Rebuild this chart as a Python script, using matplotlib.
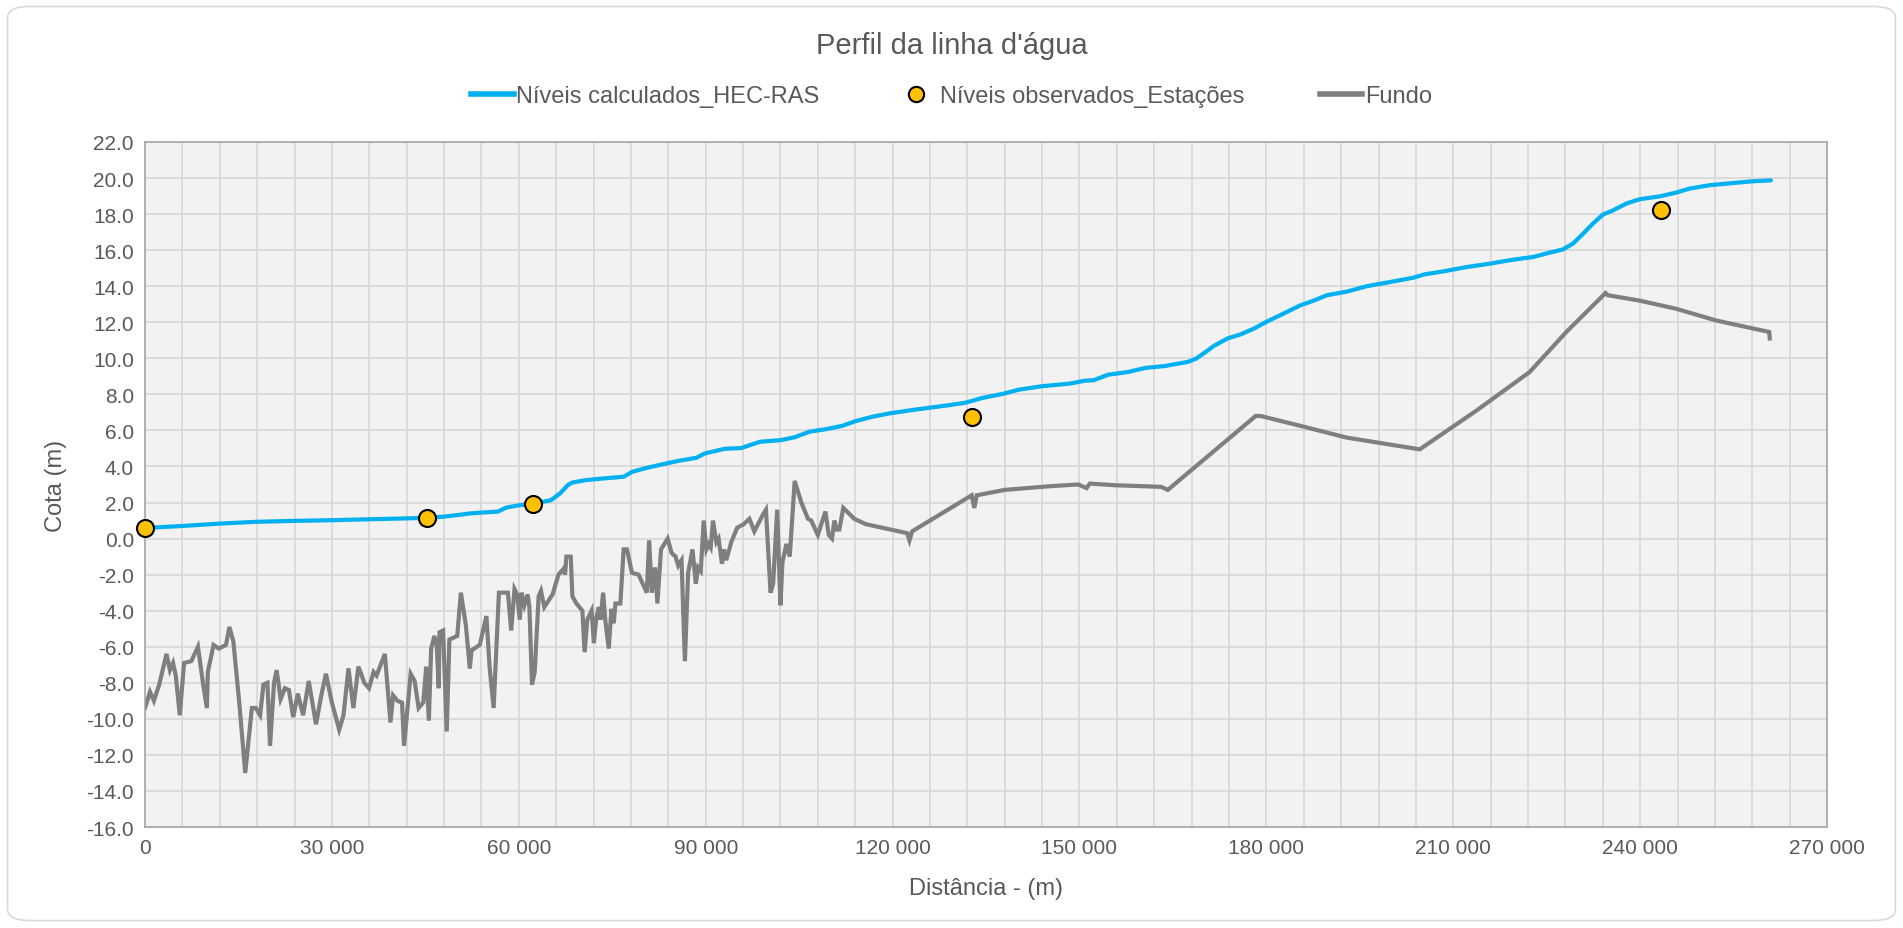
import matplotlib
matplotlib.use("Agg")
import matplotlib.pyplot as plt
from matplotlib.ticker import MultipleLocator, FuncFormatter
from matplotlib.patches import FancyBboxPatch
from matplotlib.lines import Line2D

# ── Data ──────────────────────────────────────────────────────────────────────
nivel_x = [0, 6100, 11950, 17800, 23630, 30000, 35840, 42000, 45300, 48060,
           50550, 52000, 54000, 56660, 57980, 60100, 62230, 65150, 66600, 67900,
           68600, 70730, 73380, 76830, 78160, 80500, 82410, 85600, 88500, 89840,
           93030, 95680, 98710, 102000, 104280, 106670, 109330, 111980, 114110, 116760,
           119420, 123130, 125950, 129070, 131730, 134390, 137850, 140250, 143970, 148500,
           150890, 152220, 154610, 157800, 160460, 163650, 167380, 168710, 170040, 171630,
           173760, 175890, 178020, 180150, 182270, 185470, 187600, 189720, 192920, 196110,
           199830, 203560, 205440, 208380, 212120, 215850, 219590, 222800, 225470, 227600,
           229200, 230810, 232410, 234010, 235610, 237750, 239880, 243090, 245760, 247890,
           251100, 254840, 258040, 260980]
nivel_y = [0.59, 0.70, 0.83, 0.93, 0.98, 1.02, 1.07, 1.12, 1.15, 1.22,
           1.32, 1.39, 1.44, 1.50, 1.72, 1.85, 1.92, 2.13, 2.50, 2.98,
           3.11, 3.24, 3.33, 3.43, 3.70, 3.92, 4.07, 4.31, 4.48, 4.72,
           4.98, 5.02, 5.37, 5.46, 5.62, 5.93, 6.07, 6.26, 6.52, 6.76,
           6.94, 7.13, 7.26, 7.40, 7.54, 7.80, 8.04, 8.26, 8.45, 8.60,
           8.76, 8.78, 9.09, 9.24, 9.46, 9.57, 9.80, 9.98, 10.30, 10.70,
           11.10, 11.33, 11.65, 12.05, 12.40, 12.94, 13.20, 13.50, 13.70, 14.00,
           14.23, 14.47, 14.66, 14.82, 15.06, 15.25, 15.47, 15.62, 15.86, 16.04,
           16.36, 16.90, 17.47, 17.97, 18.20, 18.58, 18.82, 18.98, 19.19, 19.41,
           19.60, 19.72, 19.82, 19.87]

obs_x = [0, 45300, 62230, 132700, 243400]
obs_y = [0.59, 1.15, 1.90, 6.76, 18.20]

fundo_x = [0, 800, 1430, 2280, 3450, 4000, 4500, 4940, 5580, 6270,
           7430, 8500, 9300, 9930, 10090, 11000, 11840, 13000, 13540, 14180,
           15130, 16090, 17150, 17790, 18480, 19010, 19650, 20070, 20710, 21130,
           21770, 22460, 23100, 23790, 24530, 25380, 26280, 27450, 28300, 29040,
           30000, 31170, 31860, 32660, 33450, 34250, 35210, 35950, 36690, 37170,
           38500, 39400, 39830, 40520, 41260, 41580, 42640, 43280, 43920, 44660,
           45140, 45560, 45930, 46460, 46840, 47150, 47260, 47850, 48430, 48860,
           49490, 50120, 50700, 51500, 52140, 52410, 53730, 54800, 55330, 55960,
           56810, 58250, 58780, 59310, 59730, 60160, 60430, 60900, 61430, 61700,
           62120, 62550, 63190, 63560, 64090, 65420, 66370, 67120, 67430, 67640,
           68340, 68600, 69240, 70200, 70570, 70990, 71680, 72050, 72430, 72850,
           73110, 73540, 73910, 74440, 74870, 75240, 75510, 76300, 76830, 77360,
           78160, 79220, 80020, 80550, 80920, 81350, 81880, 82250, 82830, 83890,
           84530, 85160, 85590, 86120, 86660, 87180, 87880, 88410, 88780, 89210,
           89680, 90110, 90480, 90800, 91170, 91710, 92070, 92610, 92930, 93300,
           94100, 95050, 96110, 97010, 97810, 99140, 99670, 100410, 100830, 101470,
           102000, 102320, 102960, 103490, 104280, 105350, 106410, 106940, 108000, 109220,
           109750, 110280, 110650, 111030, 111450, 112090, 113840, 115700, 122340, 122710,
           123130, 132690, 133120, 133490, 138000, 145030, 149800, 151130, 151660, 155670,
           163120, 164180, 178280, 179080, 184930, 192910, 204620, 213720, 222260, 228140,
           234440, 234810, 239890, 245760, 252170, 260710, 260800]
fundo_y = [-9.4, -8.5, -9.0, -8.1, -6.4, -7.3, -6.9, -7.6, -9.8, -6.9,
           -6.8, -6.0, -8.0, -9.4, -7.4, -5.9, -6.1, -5.9, -4.9, -5.7,
           -9.1, -13.0, -9.4, -9.4, -9.8, -8.1, -8.0, -11.5, -8.0, -7.3,
           -8.9, -8.3, -8.4, -9.9, -8.6, -9.8, -7.9, -10.3, -8.7, -7.5,
           -9.1, -10.6, -9.8, -7.2, -9.4, -7.1, -8.0, -8.3, -7.4, -7.6,
           -6.4, -10.2, -8.7, -9.0, -9.1, -11.5, -7.5, -7.9, -9.4, -9.1,
           -7.1, -10.1, -6.1, -5.4, -6.0, -8.3, -5.2, -5.1, -10.7, -5.6,
           -5.5, -5.4, -3.0, -4.8, -7.2, -6.2, -5.9, -4.3, -7.2, -9.4,
           -3.0, -3.0, -5.1, -2.8, -3.1, -4.5, -3.0, -3.7, -3.1, -3.8,
           -8.1, -7.4, -3.2, -2.9, -3.8, -3.1, -2.0, -1.7, -2.0, -1.0,
           -1.0, -3.2, -3.6, -4.0, -6.3, -4.5, -4.0, -5.8, -4.4, -3.8,
           -4.5, -3.0, -4.6, -6.1, -3.9, -4.7, -3.6, -3.6, -0.6, -0.6,
           -1.9, -2.0, -2.6, -3.0, -0.1, -3.0, -1.6, -3.6, -0.6, 0.0,
           -0.8, -1.0, -1.5, -1.2, -6.8, -1.9, -0.6, -2.5, -1.6, -1.8,
           1.0, -0.6, -0.3, -0.5, 1.0, -0.2, 0.0, -1.4, -0.6, -1.2,
           -0.2, 0.6, 0.8, 1.1, 0.4, 1.3, 1.6, -3.0, -2.5, 1.6,
           -3.7, -1.3, -0.3, -1.0, 3.2, 2.0, 1.1, 1.0, 0.2, 1.5,
           0.2, 0.0, 1.0, 0.5, 0.5, 1.7, 1.1, 0.8, 0.3, -0.1,
           0.4, 2.4, 1.7, 2.4, 2.7, 2.9, 3.0, 2.8, 3.05, 2.96,
           2.87, 2.7, 6.8, 6.8, 6.3, 5.6, 4.95, 7.1, 9.24, 11.46,
           13.62, 13.5, 13.2, 12.75, 12.1, 11.46, 11.1]

# ── Style ─────────────────────────────────────────────────────────────────────
FONT      = ["Liberation Sans Narrow", "Liberation Sans", "DejaVu Sans"]
TXT       = "#595959"
BLUE      = "#00B0F0"
GREY      = "#7F7F7F"
GOLD      = "#FFC000"

plt.rcParams["font.family"] = FONT

fig = plt.figure(figsize=(19.03, 9.29), dpi=100)
fig.patch.set_facecolor("white")

# rounded chart border
fig.patches.append(FancyBboxPatch((0.004, 0.008), 0.992, 0.984,
                                  boxstyle="round,pad=0,rounding_size=0.012",
                                  transform=fig.transFigure, facecolor="none",
                                  edgecolor="#D9D9D9", linewidth=1.2))

ax = fig.add_axes([0.0762, 0.1087, 0.8839, 0.7374])
ax.set_facecolor("#F2F2F2")

ax.plot(nivel_x, nivel_y, color=BLUE, lw=3.0, zorder=3, solid_capstyle="round")
ax.plot(fundo_x, fundo_y, color=GREY, lw=3.0, zorder=2, solid_joinstyle="miter")
ax.scatter(obs_x, obs_y, s=150, color=GOLD, edgecolors="black", linewidths=1.5,
           zorder=4, clip_on=False)

ax.set_xlim(0, 270000)
ax.set_ylim(-16, 22)
ax.xaxis.set_major_locator(MultipleLocator(30000))
ax.xaxis.set_minor_locator(MultipleLocator(6000))
ax.yaxis.set_major_locator(MultipleLocator(2))
ax.xaxis.set_major_formatter(FuncFormatter(lambda v, p: f"{int(v):,}".replace(",", " ")))
ax.yaxis.set_major_formatter(FuncFormatter(lambda v, p: f"{v:.1f}"))

ax.grid(which="both", color="#D9D9D9", lw=1.3, zorder=0)
ax.set_axisbelow(True)
ax.tick_params(which="both", length=0, labelsize=15, colors=TXT, pad=8)
for s in ax.spines.values():
    s.set_color("#A6A6A6")
    s.set_linewidth(1.2)

ax.set_xlabel("Distância - (m)", fontsize=17, color=TXT, labelpad=14)
ax.set_ylabel("Cota (m)", fontsize=17, color=TXT, labelpad=14)

fig.text(0.5, 1 - 46 / 929, "Perfil da linha d'água", ha="center", va="center",
         fontsize=21, color=TXT)

handles = [
    Line2D([], [], color=BLUE, lw=4),
    Line2D([], [], ls="none", marker="o", markersize=11, markerfacecolor=GOLD,
           markeredgecolor="black", markeredgewidth=1.5),
    Line2D([], [], color=GREY, lw=4),
]
labels = ["Níveis calculados_HEC-RAS", "Níveis observados_Estações", "Fundo"]
leg = fig.legend(handles, labels, loc="center", bbox_to_anchor=(0.5, 1 - 97 / 929),
                 ncol=3, frameon=False, fontsize=17, handlelength=1.8,
                 handletextpad=0.1, columnspacing=3.2)
for t in leg.get_texts():
    t.set_color(TXT)

fig.savefig("out.png", dpi=100)
